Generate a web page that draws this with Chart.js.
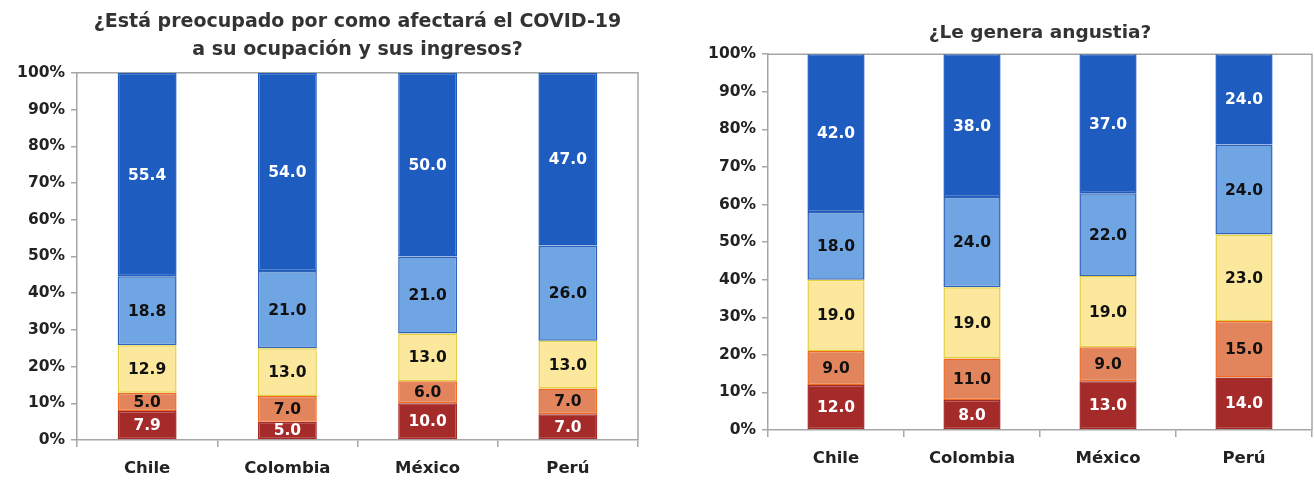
<!DOCTYPE html>
<html>
<head>
<meta charset="utf-8">
<script src="https://cdn.jsdelivr.net/npm/chart.js@4.4.1/dist/chart.umd.min.js"></script>
<style>
  body { margin: 0; background: #fff; width: 1314px; height: 480px; position: relative; overflow: hidden; }
  .box { position: absolute; top: 0; height: 480px; }
</style>
</head>
<body>
<div class="box" style="left:0;width:652px"><canvas id="leftChart"></canvas></div>
<div class="box" style="left:660px;width:654px"><canvas id="rightChart"></canvas></div>
<script>
const countries = ['Chile', 'Colombia', 'México', 'Perú'];
const yTicks = [0, 10, 20, 30, 40, 50, 60, 70, 80, 90, 100];

// ¿Está preocupado...? (bottom to top)
const occRed = [7.9, 5.0, 10.0, 7.0];
const occOrange = [5.0, 7.0, 6.0, 7.0];
const occYellow = [12.9, 13.0, 13.0, 13.0];
const occLightBlue = [18.8, 21.0, 21.0, 26.0];
const occBlue = [55.4, 54.0, 50.0, 47.0];

// ¿Le genera angustia?
const angRed = [12.0, 8.0, 13.0, 14.0];
const angOrange = [9.0, 11.0, 9.0, 15.0];
const angYellow = [19.0, 19.0, 19.0, 23.0];
const angLightBlue = [18.0, 24.0, 22.0, 24.0];
const angBlue = [42.0, 38.0, 37.0, 24.0];

const FONT = "'DejaVu Sans', sans-serif";

// segment look: fill, border, label colour
const segStyles = [
  { bg: '#A52A2A', border: '#A52A2A', text: '#ffffff' },
  { bg: '#E2845C', border: '#F06A22', text: '#111111' },
  { bg: '#FBE89C', border: '#E4D23C', text: '#111111' },
  { bg: '#6FA5E3', border: '#2F62B8', text: '#111111' },
  { bg: '#1F5CC0', border: '#1F5CC0', text: '#ffffff' }
];

// prints the value in the middle of each segment
const barLabels = {
  id: 'barLabels',
  afterDatasetsDraw(chart) {
    const ctx = chart.ctx;
    ctx.save();
    ctx.font = 'bold 15.5px ' + FONT;
    ctx.textAlign = 'center';
    ctx.textBaseline = 'middle';
    chart.data.datasets.forEach((ds, i) => {
      const meta = chart.getDatasetMeta(i);
      meta.data.forEach((bar, j) => {
        ctx.fillStyle = segStyles[i].text;
        ctx.fillText(ds.data[j].toFixed(1), bar.x, (bar.y + bar.base) / 2 + 1);
      });
    });
    ctx.restore();
  }
};

// gray frame on top and right of the plot area
const plotFrame = {
  id: 'plotFrame',
  beforeDatasetsDraw(chart) {
    const a = chart.chartArea;
    const ctx = chart.ctx;
    ctx.save();
    ctx.strokeStyle = '#a6a6a6';
    ctx.lineWidth = 1.5;
    ctx.beginPath();
    ctx.moveTo(a.left, a.top);
    ctx.lineTo(a.right, a.top);
    ctx.lineTo(a.right, a.bottom);
    ctx.stroke();
    ctx.restore();
  }
};

function makeChart(id, title, series, opts) {
  const ctx = document.getElementById(id).getContext('2d');
  return new Chart(ctx, {
    type: 'bar',
    data: {
      labels: countries,
      datasets: series.map((vals, i) => ({
        data: vals,
        backgroundColor: segStyles[i].bg,
        borderColor: segStyles[i].border,
        borderWidth: 1.5,
        borderSkipped: false,
        barPercentage: 0.84,
        categoryPercentage: 0.5
      }))
    },
    options: {
      responsive: true,
      maintainAspectRatio: false,
      animation: false,
      layout: { padding: { left: 0, right: opts.padRight, top: 0, bottom: 0 } },
      plugins: {
        legend: { display: false },
        tooltip: { enabled: false },
        title: {
          display: true,
          fullSize: false,
          text: title,
          color: '#333333',
          font: { family: FONT, size: opts.titleSize, weight: 'bold', lineHeight: opts.titleLine },
          padding: opts.titlePad
        }
      },
      scales: {
        x: {
          stacked: true,
          grid: { display: true, drawOnChartArea: false, offset: true, color: '#a6a6a6', tickLength: 7, lineWidth: 1.5 },
          border: { color: '#a6a6a6', width: 1.5 },
          ticks: { color: '#222', font: { family: FONT, size: 16.5, weight: 'bold' }, padding: 12 },
          afterFit(scale) { scale.height = opts.xHeight; }
        },
        y: {
          stacked: true,
          min: 0,
          max: 100,
          afterBuildTicks(scale) { scale.ticks = yTicks.map(v => ({ value: v })); },
          grid: { display: true, drawOnChartArea: false, color: '#a6a6a6', tickLength: 6, lineWidth: 1.5 },
          border: { color: '#a6a6a6', width: 1.5 },
          ticks: {
            color: '#222',
            font: { family: FONT, size: 15.5, weight: 'bold' },
            padding: 6,
            callback: v => v + '%'
          },
          afterFit(scale) { scale.width = opts.yWidth; }
        }
      }
    },
    plugins: [barLabels, plotFrame]
  });
}

makeChart('leftChart',
  ['¿Está preocupado por como afectará el COVID-19', 'a su ocupación y sus ingresos?'],
  [occRed, occOrange, occYellow, occLightBlue, occBlue],
  { yWidth: 77, xHeight: 40, padRight: 14, titleSize: 19, titleLine: 1.47, titlePad: { top: 8, bottom: 9 } });

makeChart('rightChart',
  '¿Le genera angustia?',
  [angRed, angOrange, angYellow, angLightBlue, angBlue],
  { yWidth: 108, xHeight: 50, padRight: 2, titleSize: 18.5, titleLine: 1.2, titlePad: { top: 22, bottom: 10 } });
</script>
</body>
</html>
